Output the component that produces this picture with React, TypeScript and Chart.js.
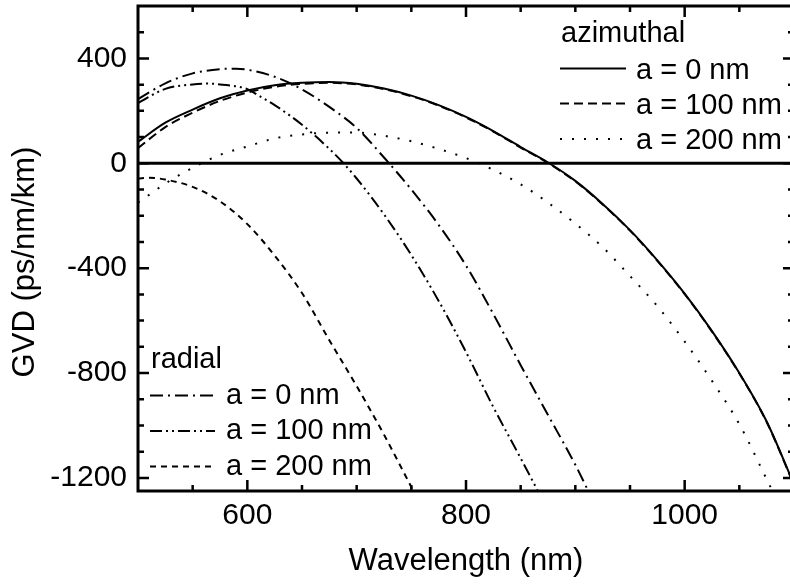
import { useEffect, useRef } from "react";
import { Chart, registerables } from "chart.js";

Chart.register(...registerables);

// Group-velocity dispersion (ps/nm/km) against wavelength (nm)

// azimuthal polarisation
const azimuthal0Wl = [500, 525, 550, 575, 600, 625, 650, 675, 700, 725, 750, 775, 800, 825, 850, 875, 900, 925, 950, 975, 1000, 1025, 1050, 1075, 1100];
const azimuthal0Gvd = [82, 155, 205, 248, 278, 298, 307, 310, 303, 285, 258, 222, 177, 123, 62, 3, -67, -155, -255, -370, -497, -640, -800, -985, -1225];

const azimuthal100Wl = [500, 525, 550, 575, 600, 625, 650, 675, 700, 725, 750, 775, 800, 825, 850, 875, 900, 925, 950, 975, 1000, 1025, 1050, 1075, 1100];
const azimuthal100Gvd = [58, 138, 193, 238, 270, 292, 303, 307, 301, 283, 256, 220, 175, 121, 60, 1, -69, -157, -257, -372, -499, -642, -802, -987, -1227];

const azimuthal200Wl = [500, 512, 525, 550, 575, 600, 625, 650, 675, 700, 725, 750, 775, 800, 825, 850, 875, 900, 925, 950, 975, 1000, 1025, 1050, 1075, 1085];
const azimuthal200Gvd = [-150, -115, -77, -17, 32, 64, 95, 110, 117, 117, 105, 84, 55, 20, -25, -80, -150, -230, -320, -430, -545, -680, -830, -995, -1205, -1290];

// radial polarisation
const radial0Wl = [500, 525, 550, 575, 590, 600, 625, 650, 675, 700, 725, 750, 775, 800, 825, 850, 875, 900, 913];
const radial0Gvd = [245, 305, 343, 359, 361, 357, 330, 282, 215, 135, 22, -100, -235, -390, -575, -770, -960, -1150, -1260];

const radial100Wl = [500, 525, 550, 565, 575, 600, 612, 625, 650, 675, 688, 700, 725, 750, 775, 800, 825, 850, 867];
const radial100Gvd = [230, 284, 301, 304, 301, 283, 254, 222, 147, 55, 0, -58, -195, -350, -525, -720, -930, -1125, -1260];

const radial200Wl = [500, 510, 525, 550, 575, 600, 625, 650, 675, 700, 725, 750, 755];
const radial200Gvd = [-58, -55, -62, -90, -145, -232, -352, -495, -675, -850, -1035, -1235, -1275];

// axis ticks
const xMajorTicks = [600, 800, 1000];
const xMinorTicks = [550, 650, 700, 750, 850, 900, 950, 1050];
const yMajorTicks = [-1200, -800, -400, 0, 400];
const yMinorTicks = [-1100, -1000, -900, -700, -600, -500, -300, -200, -100, 100, 200, 300, 500];

const seriesLabels = ["a = 0 nm", "a = 100 nm", "a = 200 nm"];

const FONT = '"Liberation Sans", Arial, Helvetica, sans-serif';

const toPoints = (wl: number[], gvd: number[]) => wl.map((x, i) => ({ x, y: gvd[i] }));

const framePlugin = {
  id: "frameAndLegend",
  beforeDatasetsDraw(chart: any) {
    const { ctx, chartArea, scales } = chart;
    const y0 = scales.y.getPixelForValue(0);
    ctx.save();
    ctx.strokeStyle = "#000";
    ctx.lineWidth = 3;
    ctx.beginPath();
    ctx.moveTo(chartArea.left, y0);
    ctx.lineTo(chartArea.right, y0);
    ctx.stroke();
    ctx.restore();
  },
  afterDraw(chart: any) {
    const { ctx, chartArea, scales } = chart;
    const { left, right, top, bottom } = chartArea;
    ctx.save();
    ctx.strokeStyle = "#000";
    ctx.lineCap = "butt";

    // inward ticks on all four sides
    const xtick = (vals: number[], len: number) => {
      ctx.lineWidth = 2.5;
      ctx.beginPath();
      for (const v of vals) {
        const px = scales.x.getPixelForValue(v);
        ctx.moveTo(px, bottom);
        ctx.lineTo(px, bottom - len);
        ctx.moveTo(px, top);
        ctx.lineTo(px, top + len);
      }
      ctx.stroke();
    };
    const ytick = (vals: number[], len: number) => {
      ctx.lineWidth = 2.5;
      ctx.beginPath();
      for (const v of vals) {
        const py = scales.y.getPixelForValue(v);
        ctx.moveTo(left, py);
        ctx.lineTo(left + len, py);
        ctx.moveTo(right, py);
        ctx.lineTo(right - len, py);
      }
      ctx.stroke();
    };
    xtick(xMajorTicks, 11);
    xtick(xMinorTicks, 6);
    ytick(yMajorTicks, 11);
    ytick(yMinorTicks, 6);

    // frame
    ctx.lineWidth = 3;
    ctx.strokeRect(left, top, right - left, bottom - top);

    // axis titles
    ctx.fillStyle = "#000";
    ctx.font = `31px ${FONT}`;
    ctx.textAlign = "center";
    ctx.textBaseline = "alphabetic";
    ctx.fillText("Wavelength (nm)", (left + right) / 2, 570);
    ctx.save();
    ctx.translate(34, 262);
    ctx.rotate(-Math.PI / 2);
    ctx.fillText("GVD (ps/nm/km)", 0, 0);
    ctx.restore();

    // legends
    const drawLegend = (
      title: string,
      titleX: number,
      titleBase: number,
      lineX0: number,
      lineX1: number,
      textX: number,
      rows: { ds: number; lineY: number; base: number }[]
    ) => {
      ctx.font = `29px ${FONT}`;
      ctx.textAlign = "left";
      ctx.textBaseline = "alphabetic";
      ctx.fillText(title, titleX, titleBase);
      rows.forEach((r, i) => {
        const ds = chart.data.datasets[r.ds];
        ctx.save();
        ctx.lineWidth = ds.borderWidth;
        ctx.setLineDash(ds.borderDash || []);
        ctx.beginPath();
        ctx.moveTo(lineX0, r.lineY);
        ctx.lineTo(lineX1, r.lineY);
        ctx.stroke();
        ctx.restore();
        ctx.fillText(seriesLabels[i], textX, r.base);
      });
    };
    drawLegend("azimuthal", 561, 41.5, 560, 626, 636, [
      { ds: 0, lineY: 68.5, base: 78.5 },
      { ds: 1, lineY: 103.5, base: 113.5 },
      { ds: 2, lineY: 139, base: 148.5 },
    ]);
    drawLegend("radial", 151, 368, 150, 215, 226, [
      { ds: 3, lineY: 395.5, base: 403.5 },
      { ds: 4, lineY: 431, base: 439 },
      { ds: 5, lineY: 466.5, base: 474.5 },
    ]);
    ctx.restore();
  },
};

export default function App() {
  const canvasRef = useRef<HTMLCanvasElement | null>(null);

  useEffect(() => {
    const canvas = canvasRef.current;
    if (!canvas) return;
    const line = (data: { x: number; y: number }[], dash: number[]) => ({
      data,
      borderColor: "#000",
      borderWidth: 2,
      borderDash: dash,
      pointRadius: 0,
      fill: false,
      cubicInterpolationMode: "monotone" as const,
    });
    const chart = new Chart(canvas, {
      type: "line",
      data: {
        datasets: [
          line(toPoints(azimuthal0Wl, azimuthal0Gvd), []),
          line(toPoints(azimuthal100Wl, azimuthal100Gvd), [9, 5]),
          line(toPoints(azimuthal200Wl, azimuthal200Gvd), [2, 10]),
          line(toPoints(radial0Wl, radial0Gvd), [13, 5, 2, 5]),
          line(toPoints(radial100Wl, radial100Gvd), [12, 4, 2, 4, 2, 4]),
          line(toPoints(radial200Wl, radial200Gvd), [6, 5]),
        ],
      },
      options: {
        animation: false,
        responsive: false,
        devicePixelRatio: 1,
        layout: { padding: { top: 6, right: 6, left: 0, bottom: 0 } },
        plugins: { legend: { display: false }, tooltip: { enabled: false } },
        scales: {
          x: {
            type: "linear",
            min: 500,
            max: 1100,
            afterBuildTicks: (s: any) => {
              s.ticks = xMajorTicks.map((value) => ({ value }));
            },
            afterFit: (s: any) => {
              s.height = 93;
              s.paddingLeft = 0;
              s.paddingRight = 0;
            },
            grid: { display: false, drawTicks: false },
            border: { display: false },
            ticks: {
              color: "#000",
              font: { family: FONT, size: 30 },
              padding: 7,
              maxRotation: 0,
              autoSkip: false,
              callback: (v: any) => String(v),
            },
          },
          y: {
            type: "linear",
            min: -1250,
            max: 600,
            afterBuildTicks: (s: any) => {
              s.ticks = yMajorTicks.map((value) => ({ value }));
            },
            afterFit: (s: any) => {
              s.width = 138;
              s.paddingTop = 0;
              s.paddingBottom = 0;
            },
            grid: { display: false, drawTicks: false },
            border: { display: false },
            ticks: {
              color: "#000",
              font: { family: FONT, size: 30 },
              padding: 11,
              autoSkip: false,
              callback: (v: any) => String(v),
            },
          },
        },
      },
      plugins: [framePlugin],
    });
    return () => chart.destroy();
  }, []);

  return (
    <div
      style={{
        position: "fixed",
        left: 0,
        top: 0,
        width: 790,
        height: 584,
        overflow: "hidden",
        background: "#fff",
      }}
    >
      <canvas ref={canvasRef} width={800} height={584} style={{ display: "block" }} />
    </div>
  );
}
